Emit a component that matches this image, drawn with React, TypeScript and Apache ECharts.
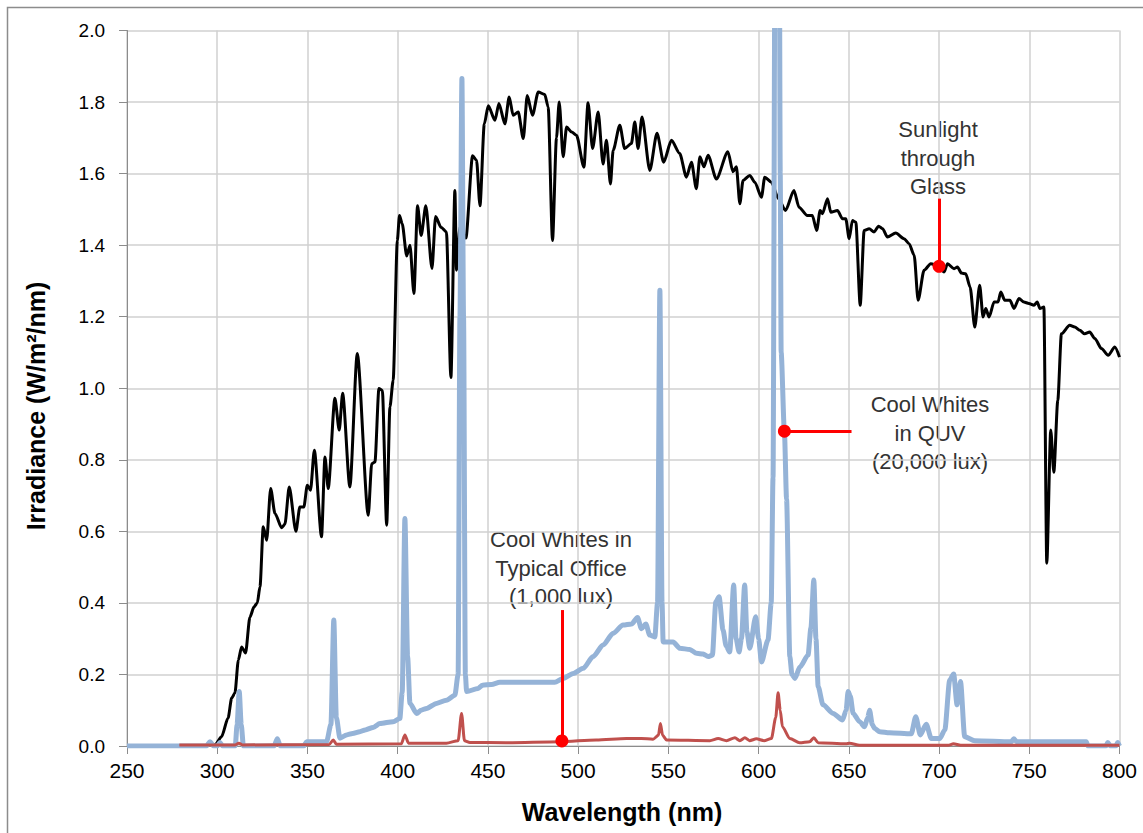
import React, { useEffect, useRef } from "react";
import * as echarts from "echarts";

// Sunlight through glass
const sunNm = [297, 299, 302.4, 306, 308, 309.8, 311.7, 313.5, 315.7, 318.1, 320.4, 322.2, 323.7, 325.5, 327.4, 329.6, 332, 335.7, 337.5, 339.9, 343.6, 345.8, 348, 349.9, 351.7, 353.8, 357.8, 359.7, 361.5, 365.2, 367.6, 369.5, 373.5, 377.6, 383.7, 385.6, 387.4, 389.6, 391.5, 393.9, 395.7, 397.5, 399.8, 401, 402.5, 405, 406.8, 409, 411, 413, 415.6, 419, 421, 424, 427, 429.5, 431.7, 432.6, 434.5, 437.8, 441.5, 443.7, 445.6, 448, 450.2, 453.9, 456.1, 459.4, 461.8, 464, 466.8, 469.6, 471.8, 474.7, 477.9, 481.5, 483.4, 485.8, 488, 489.5, 491.7, 493.6, 496.4, 499.1, 503.2, 505.5, 508, 511.1, 513.8, 515.7, 517.9, 519.4, 523.1, 525.8, 529.5, 531.4, 533.2, 535.4, 539.7, 543.7, 547.4, 551.7, 556.3, 560, 562.8, 565.5, 567.5, 569.7, 572, 576.6, 583, 585.8, 587.7, 589.6, 591.4, 595.1, 597.9, 601.6, 603.4, 607.1, 611, 614.9, 619.6, 622.4, 627, 629.8, 632.2, 634.1, 635.4, 638.2, 640, 643.7, 646.5, 648.3, 650.2, 652, 653.9, 656.3, 658.5, 661.3, 664, 666.5, 668.7, 671.4, 676, 680.6, 683.4, 686.2, 688.4, 691.7, 695.4, 700, 702.8, 704.7, 708.3, 710.2, 712.4, 714.8, 717.2, 719.8, 722.5, 724.4, 725.9, 727.7, 730.5, 732.7, 734.2, 736.4, 739.3, 741.5, 744.3, 747, 749.8, 752.6, 754.4, 755.9, 758.1, 759.7, 761.9, 763.6, 765.8, 767.8, 772.4, 775.2, 778, 780.7, 783.5, 786.3, 790, 793.7, 797.4, 800];
const sunVal = [0, 0.005, 0.026, 0.078, 0.134, 0.148, 0.24, 0.277, 0.26, 0.36, 0.389, 0.4, 0.445, 0.613, 0.575, 0.72, 0.65, 0.61, 0.62, 0.724, 0.6, 0.668, 0.668, 0.729, 0.715, 0.827, 0.585, 0.808, 0.72, 0.972, 0.883, 0.986, 0.724, 1.097, 0.645, 0.789, 0.794, 0.999, 0.994, 0.617, 0.948, 1.022, 1.413, 1.483, 1.46, 1.37, 1.4, 1.265, 1.51, 1.427, 1.51, 1.335, 1.48, 1.45, 1.437, 1.03, 1.553, 1.33, 1.45, 1.42, 1.65, 1.637, 1.51, 1.739, 1.79, 1.749, 1.796, 1.739, 1.814, 1.763, 1.772, 1.698, 1.818, 1.763, 1.828, 1.821, 1.786, 1.413, 1.7, 1.8, 1.647, 1.73, 1.716, 1.707, 1.618, 1.798, 1.67, 1.772, 1.627, 1.693, 1.571, 1.665, 1.735, 1.67, 1.684, 1.744, 1.67, 1.758, 1.609, 1.713, 1.632, 1.693, 1.656, 1.59, 1.632, 1.558, 1.647, 1.619, 1.651, 1.585, 1.661, 1.605, 1.619, 1.516, 1.581, 1.595, 1.576, 1.534, 1.59, 1.576, 1.53, 1.497, 1.553, 1.506, 1.483, 1.483, 1.441, 1.497, 1.488, 1.53, 1.492, 1.497, 1.474, 1.474, 1.418, 1.469, 1.464, 1.232, 1.441, 1.446, 1.437, 1.453, 1.446, 1.423, 1.434, 1.418, 1.404, 1.372, 1.246, 1.33, 1.348, 1.341, 1.325, 1.348, 1.334, 1.339, 1.322, 1.32, 1.283, 1.171, 1.288, 1.199, 1.223, 1.199, 1.241, 1.241, 1.269, 1.246, 1.246, 1.223, 1.251, 1.241, 1.237, 1.232, 1.241, 1.223, 1.227, 0.511, 0.883, 0.765, 0.966, 1.152, 1.176, 1.171, 1.162, 1.152, 1.157, 1.139, 1.111, 1.092, 1.115, 1.087];

// Cool whites in QUV (20,000 lux)
const quvNm = [250, 294, 296, 298, 300, 301.5, 303, 310, 311, 312.2, 313.3, 314.5, 331.5, 333.3, 335, 348, 349.5, 360.6, 363, 364.6, 366, 368, 371.7, 375, 379, 382, 386.4, 390.2, 397.5, 401.2, 402.5, 404, 405.5, 406.8, 410.5, 413, 416, 421.5, 427, 431.7, 433.5, 434.5, 435.6, 436.5, 437.5, 438.2, 444.6, 447, 452, 456.6, 487, 491.7, 497.3, 502.8, 508.3, 513.8, 519.4, 524.9, 529.6, 532.9, 535.1, 537.5, 539.7, 542.5, 544, 545.3, 546.5, 547.1, 552.6, 556.4, 561.9, 565.6, 569.3, 572, 574.4, 576.3, 578.1, 580.3, 582, 584, 586.2, 587.5, 589.2, 590.5, 592.3, 593.5, 595.1, 598.4, 600, 601.6, 605.2, 607, 608, 609.2, 610.3, 611.4, 612, 612.5, 614.3, 615.5, 617.3, 618.5, 620.1, 622.9, 627.4, 629, 630.6, 631.8, 633, 635.7, 641.3, 646.5, 648.5, 649.6, 650.8, 652.4, 656, 658.7, 660.5, 661.5, 663, 664.3, 667.1, 672.6, 684.6, 687.1, 689.6, 692.9, 695.7, 700.4, 703.2, 705.9, 708.1, 710, 711.9, 714.2, 719.8, 740, 741.4, 743, 781.6, 782.5, 792.5, 793.5, 795, 798, 799, 800];
const quvVal = [0, 0, 0.012, 0, 0, 0.01, 0, 0, 0.06, 0.152, 0.06, 0, 0, 0.02, 0, 0, 0.012, 0.012, 0.06, 0.352, 0.08, 0.022, 0.031, 0.035, 0.04, 0.045, 0.052, 0.063, 0.068, 0.077, 0.15, 0.636, 0.25, 0.119, 0.091, 0.1, 0.105, 0.119, 0.128, 0.142, 0.2, 1.2, 1.866, 1.2, 0.2, 0.152, 0.161, 0.17, 0.172, 0.178, 0.178, 0.189, 0.203, 0.217, 0.25, 0.282, 0.315, 0.338, 0.341, 0.359, 0.328, 0.341, 0.31, 0.305, 0.4, 1.274, 0.4, 0.291, 0.291, 0.273, 0.27, 0.259, 0.257, 0.25, 0.254, 0.403, 0.417, 0.324, 0.28, 0.263, 0.45, 0.3, 0.263, 0.3, 0.45, 0.32, 0.273, 0.361, 0.3, 0.235, 0.296, 0.4, 0.75, 2.4, 3.2, 2.4, 1.6, 1.1, 0.88, 0.69, 0.25, 0.2, 0.189, 0.221, 0.254, 0.33, 0.464, 0.3, 0.166, 0.115, 0.091, 0.073, 0.1, 0.152, 0.14, 0.091, 0.068, 0.054, 0.08, 0.1, 0.06, 0.049, 0.04, 0.037, 0.034, 0.082, 0.031, 0.061, 0.021, 0.021, 0.045, 0.184, 0.201, 0.115, 0.18, 0.026, 0.015, 0.012, 0.02, 0.012, 0.012, 0, 0, 0.01, 0, 0, 0.01, 0];

// Cool whites in typical office (1,000 lux)
const officeNm = [279, 310, 312, 314, 362, 364.3, 366, 402, 404, 406, 427, 433.5, 435.4, 437, 440, 460, 490, 510, 526.8, 535, 541.5, 544.5, 545.6, 546.8, 549, 573, 577.6, 582.2, 586.9, 589.6, 592.4, 595, 598.8, 603, 607.1, 609.5, 610.8, 612, 613.2, 617.3, 622.8, 628.3, 630.6, 633, 648.5, 650.4, 656, 705, 708, 712, 800];
const officeVal = [0.003, 0.003, 0.008, 0.003, 0.004, 0.017, 0.005, 0.006, 0.031, 0.008, 0.008, 0.015, 0.091, 0.015, 0.01, 0.009, 0.012, 0.017, 0.021, 0.021, 0.019, 0.03, 0.063, 0.03, 0.017, 0.015, 0.021, 0.015, 0.023, 0.015, 0.023, 0.015, 0.02, 0.015, 0.021, 0.08, 0.149, 0.1, 0.054, 0.021, 0.009, 0.012, 0.023, 0.009, 0.006, 0.008, 0.002, 0.002, 0.006, 0.002, 0.002];

// Axis ticks
const xTicks = [250, 300, 350, 400, 450, 500, 550, 600, 650, 700, 750, 800];
const yTicks = [0, 0.2, 0.4, 0.6, 0.8, 1.0, 1.2, 1.4, 1.6, 1.8, 2.0];

// Annotation anchors: [x, y] of dot, and end of the leader line
const sunDot = [700, 1.341];
const sunLineEnd = [700, 1.53];
const quvDot = [614.3, 0.88];
const quvLineEnd = [651.5, 0.88];
const officeDot = [491, 0.014];
const officeLineEnd = [491, 0.38];

const zip = (a: number[], b: number[]) => a.map((v, i) => [v, b[i]]);

const RED = "#ff0000";

const markFor = (dot: number[], end: number[]) => ({
  markPoint: {
    silent: true,
    symbol: "circle",
    symbolSize: 13,
    itemStyle: { color: RED },
    label: { show: false },
    data: [{ coord: dot }],
  },
  markLine: {
    silent: true,
    symbol: "none",
    lineStyle: { color: RED, width: 3, type: "solid" },
    label: { show: false },
    data: [[{ coord: dot }, { coord: end }]],
  },
});

export default function App() {
  const ref = useRef<HTMLDivElement>(null);
  useEffect(() => {
    if (!ref.current) return;
    const chart = echarts.init(ref.current, null, { renderer: "svg" });
    const textFont = "'Liberation Sans', Arial, sans-serif";
    chart.setOption({
      animation: false,
      backgroundColor: "#ffffff",
      grid: { left: 127, right: 23.5, top: 30.5, bottom: 87, containLabel: false },
      xAxis: {
        type: "value",
        min: xTicks[0],
        max: xTicks[xTicks.length - 1],
        interval: 50,
        axisLine: { show: true, onZero: false, lineStyle: { color: "#8c8c8c", width: 1 } },
        axisTick: { show: true, length: 8, inside: false, lineStyle: { color: "#8c8c8c" } },
        axisLabel: { color: "#000", fontSize: 21, fontFamily: textFont, margin: 14 },
        splitLine: { show: true, lineStyle: { color: "#d0d0d0", width: 1.5 } },
      },
      yAxis: {
        type: "value",
        min: yTicks[0],
        max: yTicks[yTicks.length - 1],
        interval: 0.2,
        axisLine: { show: true, lineStyle: { color: "#8c8c8c", width: 1 } },
        axisTick: { show: true, length: 8, inside: false, lineStyle: { color: "#8c8c8c" } },
        axisLabel: {
          color: "#000",
          fontSize: 19,
          fontFamily: textFont,
          margin: 22,
          formatter: (v: number) => v.toFixed(1),
        },
        splitLine: { show: true, lineStyle: { color: "#d0d0d0", width: 1.5 } },
      },
      series: [
        {
          name: "Sunlight through Glass",
          type: "line",
          data: zip(sunNm, sunVal),
          showSymbol: false,
          smooth: 0.25,
          smoothMonotone: "x",
          lineStyle: { color: "#000000", width: 3 },
          z: 2,
          ...markFor(sunDot, sunLineEnd),
        },
        {
          name: "Cool Whites in QUV",
          type: "line",
          data: zip(quvNm, quvVal),
          showSymbol: false,
          smooth: 0.25,
          smoothMonotone: "x",
          lineStyle: { color: "#95b3d7", width: 5 },
          z: 3,
          ...markFor(quvDot, quvLineEnd),
        },
        {
          name: "Cool Whites in Typical Office",
          type: "line",
          data: zip(officeNm, officeVal),
          showSymbol: false,
          smooth: 0.25,
          smoothMonotone: "x",
          lineStyle: { color: "#c0504d", width: 3 },
          z: 4,
          ...markFor(officeDot, officeLineEnd),
        },
      ],
      graphic: [
        {
          type: "rect",
          silent: true,
          shape: { x: 7.5, y: 7.5, width: 1150, height: 840 },
          style: { fill: "none", stroke: "#8c8c8c", lineWidth: 1.5 },
          z: 0,
        },
        {
          type: "text",
          x: 36,
          y: 406,
          rotation: Math.PI / 2,
          style: {
            text: "Irradiance (W/m²/nm)",
            font: "bold 25px 'Liberation Sans', Arial, sans-serif",
            fill: "#000",
            textAlign: "center",
            textVerticalAlign: "middle",
          },
        },
        {
          type: "text",
          x: 622,
          y: 812,
          style: {
            text: "Wavelength (nm)",
            font: "bold 25px 'Liberation Sans', Arial, sans-serif",
            fill: "#000",
            textAlign: "center",
            textVerticalAlign: "middle",
          },
        },
        {
          type: "text",
          x: 938,
          y: 158,
          style: {
            text: "Sunlight\nthrough\nGlass",
            font: "22px 'Liberation Sans', Arial, sans-serif",
            lineHeight: 28.5,
            fill: "#333",
            textAlign: "center",
            textVerticalAlign: "middle",
          },
        },
        {
          type: "text",
          x: 930,
          y: 433,
          style: {
            text: "Cool Whites\nin QUV\n(20,000 lux)",
            font: "22px 'Liberation Sans', Arial, sans-serif",
            lineHeight: 28.5,
            fill: "#333",
            textAlign: "center",
            textVerticalAlign: "middle",
          },
        },
        {
          type: "text",
          x: 561,
          y: 568,
          style: {
            text: "Cool Whites in\nTypical Office\n(1,000 lux)",
            font: "22px 'Liberation Sans', Arial, sans-serif",
            lineHeight: 28.5,
            fill: "#333",
            textAlign: "center",
            textVerticalAlign: "middle",
          },
        },
      ],
    });
    return () => chart.dispose();
  }, []);
  return (
    <div
      ref={ref}
      style={{ position: "fixed", left: 0, top: 0, width: 1143, height: 833, background: "#fff" }}
    />
  );
}
